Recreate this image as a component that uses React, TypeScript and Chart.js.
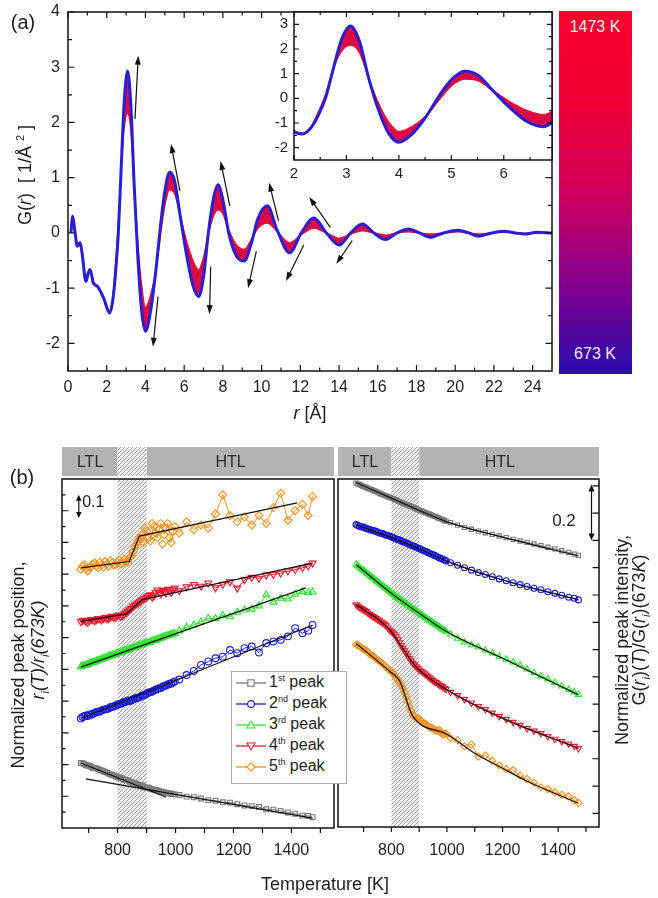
import React, { useEffect, useRef } from 'react';
import { Chart, registerables } from 'chart.js';
Chart.register(...registerables);

const FONT = '"Liberation Sans", Arial, Helvetica, sans-serif';
const W = 658;
const H = 898;

// ---------------- Panel (a): G(r) at 673 K and 1473 K ----------------
const rValues = [0.15, 0.24, 0.35, 0.48, 0.62, 0.72, 0.93, 1.05, 1.14, 1.3, 1.4, 1.55, 1.84, 2.15, 2.3, 2.45, 2.6, 2.75, 2.9, 3.08,
  3.25, 3.42, 3.6, 3.8, 4.0, 4.25, 4.5, 4.8, 5.0, 5.25, 5.5, 5.8, 6.1, 6.45, 6.75, 7.0, 7.25, 7.5, 7.75, 8.0,
  8.3, 8.7, 9.1, 9.5, 9.8, 10.3, 10.8, 11.45, 12.05, 12.7, 13.35, 14.0, 14.6, 15.2, 15.8, 16.4, 17.0, 17.6, 18.15, 18.7,
  19.4, 20.15, 20.7, 21.2, 21.9, 22.55, 23.1, 23.6, 24.2, 25.0];
const g673K = [0.0, 0.30, 0.05, -0.24, -0.18, -0.35, -0.88, -0.72, -0.66, -0.90, -0.94, -0.98, -1.18, -1.45, -1.25, -0.75, 0.0, 1.20, 2.35, 2.93,
  2.30, 0.85, -0.40, -1.40, -1.78, -1.45, -0.80, 0.20, 0.75, 1.10, 0.95, 0.30, -0.35, -0.95, -1.15, -0.80, 0.0, 0.60, 0.87, 0.60,
  0.0, -0.42, -0.51, -0.15, 0.25, 0.49, 0.05, -0.36, 0.0, 0.27, 0.0, -0.22, 0.0, 0.16, 0.0, -0.12, 0.0, 0.07, 0.0, -0.08,
  0.0, 0.05, 0.0, -0.06, 0.0, 0.03, 0.0, -0.02, 0.01, 0.0];
const g1473K = [0.0, 0.22, 0.02, -0.20, -0.17, -0.33, -0.82, -0.70, -0.66, -0.88, -0.94, -0.98, -1.16, -1.42, -1.25, -0.62, 0.15, 1.20, 1.90, 2.16,
  1.85, 0.85, -0.15, -0.95, -1.35, -1.15, -0.75, 0.02, 0.50, 0.78, 0.72, 0.30, -0.12, -0.50, -0.67, -0.45, -0.02, 0.30, 0.42, 0.35,
  0.05, -0.22, -0.30, -0.10, 0.08, 0.18, 0.03, -0.18, -0.03, 0.09, 0.0, -0.10, -0.02, 0.04, 0.0, -0.04, 0.0, 0.02, 0.0, -0.02,
  0.0, 0.02, 0.0, -0.02, 0.0, 0.01, 0.0, -0.01, 0.0, 0.0];

const arrowTailR = [3.46, 5.78, 8.36, 10.87, 13.55, 4.65, 7.37, 9.73, 12.18, 14.68];
const arrowTailG = [2.06, 0.76, 0.49, 0.22, 0.10, -1.15, -0.61, -0.33, -0.22, -0.14];
const arrowHeadR = [3.63, 5.32, 7.88, 10.39, 12.46, 4.39, 7.31, 9.30, 11.26, 13.86];
const arrowHeadG = [3.21, 1.61, 1.30, 0.91, 0.65, -2.06, -1.47, -1.00, -0.87, -0.56];

const mainXMajor = [0, 2, 4, 6, 8, 10, 12, 14, 16, 18, 20, 22, 24];
const mainXMinor = [1, 3, 5, 7, 9, 11, 13, 15, 17, 19, 21, 23];
const mainYMajor = [-2, -1, 0, 1, 2, 3, 4];
const mainYMinor = [-1.5, -0.5, 0.5, 1.5, 2.5, 3.5];
const insetXMajor = [2, 3, 4, 5, 6];
const insetXMinor = [2.5, 3.5, 4.5, 5.5, 6.5];
const insetYMajor = [-2, -1, 0, 1, 2, 3];
const insetYMinor = [-1.5, -0.5, 0.5, 1.5, 2.5];

// ---------------- Panel (b) ----------------
const temperatures = [673, 685, 697, 709, 721, 733, 745, 757, 769, 781, 793, 805,
  817, 829, 841, 853, 865, 877, 889, 901, 913, 925, 937, 949,
  961, 973, 985, 997, 1013, 1038, 1063, 1088, 1113, 1138, 1163, 1188,
  1213, 1238, 1263, 1288, 1313, 1338, 1363, 1388, 1413, 1438, 1458, 1473];
// extra measurements in the densely sampled low-temperature range
const temperaturesMid = [679, 691, 703, 715, 727, 739, 751, 763, 775, 787, 799, 811, 823, 835,
  847, 859, 871, 883, 895, 907, 919, 931, 943, 955, 967, 979, 991];

const pos1st = [0.205, 0.201, 0.197, 0.193, 0.189, 0.185, 0.181, 0.176, 0.172, 0.168, 0.163, 0.159,
  0.155, 0.151, 0.147, 0.143, 0.139, 0.135, 0.131, 0.127, 0.124, 0.121, 0.118, 0.115,
  0.112, 0.110, 0.108, 0.106, 0.104, 0.099, 0.097, 0.093, 0.088, 0.086, 0.081, 0.080,
  0.075, 0.071, 0.069, 0.066, 0.059, 0.058, 0.054, 0.049, 0.045, 0.039, 0.038, 0.034];
const pos2nd = [0.345, 0.352, 0.353, 0.357, 0.363, 0.366, 0.370, 0.374, 0.377, 0.382, 0.386, 0.391,
  0.395, 0.398, 0.400, 0.405, 0.410, 0.413, 0.418, 0.424, 0.428, 0.433, 0.438, 0.441,
  0.448, 0.452, 0.455, 0.462, 0.468, 0.482, 0.495, 0.514, 0.525, 0.535, 0.540, 0.561,
  0.551, 0.567, 0.572, 0.553, 0.583, 0.588, 0.593, 0.604, 0.630, 0.614, 0.622, 0.640];
const pos3rd = [0.508, 0.512, 0.515, 0.521, 0.523, 0.528, 0.532, 0.536, 0.541, 0.543, 0.548, 0.552,
  0.556, 0.560, 0.563, 0.568, 0.571, 0.576, 0.579, 0.583, 0.586, 0.592, 0.594, 0.598,
  0.603, 0.606, 0.610, 0.613, 0.621, 0.633, 0.640, 0.650, 0.661, 0.660, 0.670, 0.666,
  0.680, 0.687, 0.690, 0.700, 0.735, 0.712, 0.724, 0.722, 0.737, 0.745, 0.742, 0.744];
const pos4th = [0.650, 0.655, 0.648, 0.657, 0.653, 0.660, 0.656, 0.663, 0.660, 0.667, 0.664, 0.671,
  0.669, 0.678, 0.688, 0.697, 0.706, 0.713, 0.722, 0.728, 0.735, 0.731, 0.750, 0.738,
  0.745, 0.752, 0.742, 0.756, 0.748, 0.760, 0.767, 0.762, 0.772, 0.757, 0.768, 0.776,
  0.756, 0.782, 0.790, 0.787, 0.797, 0.799, 0.803, 0.810, 0.814, 0.820, 0.826, 0.835];
const pos5th = [0.815, 0.830, 0.810, 0.825, 0.835, 0.820, 0.830, 0.840, 0.825, 0.835, 0.830, 0.845,
  0.835, 0.840, 0.850, 0.870, 0.895, 0.915, 0.900, 0.935, 0.905, 0.950, 0.915, 0.960,
  0.925, 0.960, 0.900, 0.950, 0.930, 0.965, 0.940, 0.955, 0.945, 0.990, 1.050, 0.985,
  0.965, 0.980, 0.955, 0.985, 0.960, 1.010, 1.055, 0.970, 1.000, 1.020, 0.985, 1.045];

const pos1stMid = [0.204, 0.198, 0.196, 0.190, 0.188, 0.182, 0.179, 0.175, 0.169, 0.166, 0.160, 0.158, 0.152, 0.150,
  0.144, 0.142, 0.136, 0.134, 0.128, 0.127, 0.122, 0.120, 0.116, 0.114, 0.111, 0.109, 0.106];
const pos2ndMid = [0.350, 0.355, 0.358, 0.360, 0.366, 0.368, 0.373, 0.375, 0.381, 0.383, 0.389, 0.392, 0.397, 0.402,
  0.402, 0.408, 0.411, 0.417, 0.420, 0.427, 0.430, 0.436, 0.441, 0.445, 0.449, 0.455, 0.459];
const pos3rdMid = [0.511, 0.514, 0.519, 0.522, 0.526, 0.530, 0.535, 0.538, 0.543, 0.546, 0.551, 0.553, 0.559, 0.561,
  0.566, 0.569, 0.574, 0.577, 0.582, 0.584, 0.590, 0.592, 0.597, 0.600, 0.605, 0.608, 0.612];
const pos4thMid = [0.654, 0.651, 0.654, 0.656, 0.657, 0.659, 0.661, 0.660, 0.665, 0.664, 0.669, 0.666, 0.674, 0.683,
  0.692, 0.702, 0.709, 0.718, 0.724, 0.733, 0.727, 0.742, 0.744, 0.749, 0.741, 0.748, 0.751];
const pos5thMid = [0.825, 0.818, 0.822, 0.832, 0.826, 0.838, 0.822, 0.832, 0.842, 0.828, 0.838, 0.832, 0.846, 0.838,
  0.858, 0.885, 0.905, 0.925, 0.945, 0.915, 0.960, 0.930, 0.940, 0.895, 0.945, 0.915, 0.935];

const int1st = [1.260, 1.255, 1.249, 1.244, 1.239, 1.234, 1.229, 1.223, 1.218, 1.213, 1.208, 1.203,
  1.198, 1.192, 1.187, 1.182, 1.177, 1.172, 1.166, 1.161, 1.156, 1.151, 1.146, 1.141,
  1.136, 1.131, 1.126, 1.120, 1.115, 1.106, 1.098, 1.091, 1.084, 1.078, 1.072, 1.066,
  1.060, 1.054, 1.048, 1.043, 1.037, 1.031, 1.025, 1.019, 1.012, 1.006, 1.000, 0.995];
const int2nd = [1.108, 1.102, 1.100, 1.094, 1.091, 1.086, 1.083, 1.077, 1.075, 1.069, 1.066, 1.061,
  1.055, 1.052, 1.045, 1.041, 1.035, 1.030, 1.025, 1.020, 1.014, 1.009, 1.003, 0.998,
  0.992, 0.986, 0.981, 0.975, 0.968, 0.959, 0.950, 0.941, 0.932, 0.925, 0.917, 0.909,
  0.902, 0.895, 0.888, 0.881, 0.875, 0.869, 0.862, 0.856, 0.849, 0.842, 0.838, 0.832];
const int3rd = [0.962, 0.951, 0.942, 0.932, 0.922, 0.913, 0.903, 0.893, 0.884, 0.874, 0.864, 0.853,
  0.845, 0.836, 0.827, 0.818, 0.809, 0.800, 0.792, 0.783, 0.774, 0.766, 0.757, 0.749,
  0.741, 0.733, 0.724, 0.717, 0.707, 0.691, 0.677, 0.667, 0.659, 0.648, 0.637, 0.624,
  0.614, 0.604, 0.593, 0.578, 0.565, 0.553, 0.542, 0.529, 0.516, 0.503, 0.494, 0.485];
const int4th = [0.815, 0.805, 0.798, 0.790, 0.780, 0.772, 0.764, 0.756, 0.748, 0.738, 0.722, 0.712,
  0.698, 0.676, 0.655, 0.637, 0.618, 0.600, 0.588, 0.576, 0.567, 0.557, 0.547, 0.537,
  0.530, 0.520, 0.514, 0.505, 0.494, 0.482, 0.468, 0.455, 0.442, 0.431, 0.418, 0.406,
  0.395, 0.384, 0.373, 0.361, 0.352, 0.343, 0.332, 0.322, 0.314, 0.305, 0.296, 0.288];
const int5th = [0.668, 0.664, 0.652, 0.648, 0.634, 0.628, 0.617, 0.608, 0.598, 0.586, 0.575, 0.566,
  0.548, 0.530, 0.508, 0.478, 0.440, 0.410, 0.398, 0.395, 0.382, 0.377, 0.365, 0.362,
  0.352, 0.355, 0.338, 0.342, 0.326, 0.318, 0.296, 0.303, 0.258, 0.262, 0.243, 0.226,
  0.212, 0.208, 0.188, 0.176, 0.162, 0.145, 0.139, 0.127, 0.118, 0.112, 0.098, 0.088];

const int1stMid = [1.257, 1.252, 1.246, 1.241, 1.236, 1.231, 1.226, 1.220, 1.215, 1.210, 1.205, 1.200, 1.195, 1.189,
  1.184, 1.179, 1.174, 1.169, 1.163, 1.158, 1.153, 1.148, 1.143, 1.138, 1.133, 1.128, 1.123];
const int2ndMid = [1.105, 1.099, 1.097, 1.092, 1.088, 1.085, 1.080, 1.076, 1.072, 1.068, 1.063, 1.058, 1.053, 1.049,
  1.043, 1.038, 1.032, 1.028, 1.022, 1.017, 1.011, 1.006, 1.000, 0.995, 0.989, 0.984, 0.978];
const int3rdMid = [0.957, 0.946, 0.937, 0.927, 0.917, 0.908, 0.898, 0.888, 0.879, 0.869, 0.858, 0.849, 0.840, 0.831,
  0.822, 0.813, 0.804, 0.796, 0.787, 0.778, 0.770, 0.761, 0.753, 0.745, 0.737, 0.728, 0.720];
const int4thMid = [0.810, 0.801, 0.794, 0.785, 0.776, 0.768, 0.760, 0.752, 0.743, 0.730, 0.717, 0.705, 0.687, 0.665,
  0.646, 0.627, 0.609, 0.594, 0.582, 0.571, 0.562, 0.552, 0.542, 0.533, 0.525, 0.517, 0.509];
const int5thMid = [0.666, 0.658, 0.650, 0.641, 0.631, 0.622, 0.612, 0.603, 0.592, 0.580, 0.570, 0.557, 0.539, 0.519,
  0.493, 0.459, 0.425, 0.404, 0.396, 0.388, 0.380, 0.371, 0.363, 0.357, 0.353, 0.346, 0.340];

// fitted lines (left: piecewise linear, right: smooth)
const fitPos1aT = [673, 968];
const fitPos1aV = [0.205, 0.097];
const fitPos1bT = [690, 1473];
const fitPos1bV = [0.155, 0.031];
const fitPos2T = [673, 1473];
const fitPos2V = [0.345, 0.640];
const fitPos3T = [673, 1450];
const fitPos3V = [0.507, 0.757];
const fitPos4T = [673, 830, 885, 1473];
const fitPos4V = [0.651, 0.675, 0.720, 0.835];
const fitPos5T = [673, 840, 875, 1420];
const fitPos5V = [0.820, 0.840, 0.920, 1.025];

const fitInt1T = [673, 800, 1000, 1200, 1473];
const fitInt1V = [1.262, 1.205, 1.118, 1.062, 0.993];
const fitInt2T = [673, 900, 1000, 1200, 1473];
const fitInt2V = [1.108, 1.020, 0.974, 0.905, 0.832];
const fitInt3T = [673, 800, 900, 1000, 1200, 1473];
const fitInt3V = [0.962, 0.856, 0.783, 0.715, 0.618, 0.484];
const fitInt4T = [673, 790, 840, 890, 1000, 1200, 1473];
const fitInt4V = [0.815, 0.728, 0.656, 0.586, 0.503, 0.398, 0.288];
const fitInt5T = [673, 800, 830, 875, 1000, 1100, 1200, 1300, 1400, 1473];
const fitInt5V = [0.672, 0.565, 0.535, 0.410, 0.340, 0.270, 0.215, 0.162, 0.118, 0.087];

const tempTicks = [700, 800, 900, 1000, 1100, 1200, 1300, 1400, 1500];
const tempLabels = [800, 1000, 1200, 1400];
const posYMajor = [0.1, 0.2, 0.3, 0.4, 0.5, 0.6, 0.7, 0.8, 0.9, 1.0];
const posYMinor = [0.05, 0.15, 0.25, 0.35, 0.45, 0.55, 0.65, 0.75, 0.85, 0.95, 1.05];
const intYTicks = [0.05, 0.15, 0.25, 0.35, 0.45, 0.55, 0.65, 0.75, 0.85, 0.95, 1.05, 1.15, 1.25];

const transitionFrom = 800;
const transitionTo = 900;
const ltlLabelT = 705;
const htlLabelT = 1190;

const posBarT = 666;
const posBarFrom = 0.977;
const posBarTo = 1.05;
const posBarLabel = { t: 716, v: 1.025, text: '0.1' };
const intBarT = 1520;
const intBarFrom = 1.05;
const intBarTo = 1.255;
const intBarLabel = { t: 1421, v: 1.12, text: '0.2' };

const seriesNames = ['1', '2', '3', '4', '5'];
const seriesSup = ['st', 'nd', 'rd', 'th', 'th'];
const seriesColors = ['rgb(120,120,120)', 'rgb(25,25,215)', 'rgb(45,225,45)', 'rgb(235,25,45)', 'rgb(245,145,30)'];
const seriesMarkers = ['rect', 'circle', 'triangle', 'triangleDown', 'rectRot'];

// ---------------- helpers ----------------
const pts = (xs: number[], ys: number[]) => xs.map((x, i) => ({ x, y: ys[i] }));

function hatchPattern(ctx: CanvasRenderingContext2D) {
  const c = document.createElement('canvas');
  c.width = 4; c.height = 4;
  const p = c.getContext('2d')!;
  p.fillStyle = '#eeeeee';
  p.fillRect(0, 0, 4, 4);
  p.strokeStyle = '#a2a2a2';
  p.lineWidth = 1;
  p.beginPath();
  p.moveTo(0, 4); p.lineTo(4, 0);
  p.moveTo(-1, 1); p.lineTo(1, -1);
  p.moveTo(3, 5); p.lineTo(5, 3);
  p.stroke();
  return ctx.createPattern(c, 'repeat')!;
}

function arrowHead(ctx: CanvasRenderingContext2D, x1: number, y1: number, x2: number, y2: number, len: number, half: number) {
  const a = Math.atan2(y2 - y1, x2 - x1);
  const bx = x2 - len * Math.cos(a), by = y2 - len * Math.sin(a);
  ctx.beginPath();
  ctx.moveTo(x2, y2);
  ctx.lineTo(bx + half * Math.sin(a), by - half * Math.cos(a));
  ctx.lineTo(bx - half * Math.sin(a), by + half * Math.cos(a));
  ctx.closePath();
  ctx.fill();
}

function makeDecor(d: any) {
  return {
    id: 'decor',
    beforeDraw(chart: any) {
      const { ctx, chartArea: a, scales } = chart;
      ctx.save();
      if (d.white) {
        ctx.fillStyle = '#ffffff';
        ctx.fillRect(a.left, a.top, a.right - a.left, a.bottom - a.top);
      }
      if (d.band) {
        const sx = scales.x;
        const pat = hatchPattern(ctx);
        const x1 = sx.getPixelForValue(d.band.from);
        const x2 = sx.getPixelForValue(d.band.to);
        const bt = a.top - 32, bh = 29;
        ctx.fillStyle = '#b3b3b3';
        ctx.fillRect(a.left, bt, x1 - a.left, bh);
        ctx.fillRect(x2, bt, a.right - x2, bh);
        ctx.fillStyle = pat;
        ctx.fillRect(x1, bt, x2 - x1, bh);
        ctx.fillRect(x1, a.top, x2 - x1, a.bottom - a.top);
        ctx.fillStyle = '#2a2a2a';
        ctx.font = '16px ' + FONT;
        ctx.textAlign = 'center';
        ctx.textBaseline = 'middle';
        ctx.fillText('LTL', sx.getPixelForValue(d.band.ltlAt), bt + bh / 2 + 1);
        ctx.fillText('HTL', sx.getPixelForValue(d.band.htlAt), bt + bh / 2 + 1);
      }
      ctx.restore();
    },
    afterDatasetsDraw(chart: any) {
      const { ctx, chartArea: a, scales } = chart;
      ctx.save();
      ctx.strokeStyle = '#111';
      ctx.lineWidth = 1.5;
      ctx.strokeRect(a.left, a.top, a.right - a.left, a.bottom - a.top);
      ctx.lineWidth = 1.2;
      for (const t of d.ticks) {
        const sc = scales[t.axis];
        const dir = t.inward ? 1 : -1;
        ctx.beginPath();
        for (const v of t.values) {
          const p = sc.getPixelForValue(v);
          if (t.side === 'bottom') { ctx.moveTo(p, a.bottom); ctx.lineTo(p, a.bottom - dir * t.len); }
          else if (t.side === 'top') { ctx.moveTo(p, a.top); ctx.lineTo(p, a.top + dir * t.len); }
          else if (t.side === 'left') { ctx.moveTo(a.left, p); ctx.lineTo(a.left + dir * t.len, p); }
          else { ctx.moveTo(a.right, p); ctx.lineTo(a.right - dir * t.len, p); }
        }
        ctx.stroke();
      }
      ctx.fillStyle = '#1e1e1e';
      for (const l of d.labels) {
        const sc = scales[l.axis];
        ctx.font = l.font + ' ' + FONT;
        ctx.textBaseline = 'middle';
        l.values.forEach((v: number) => {
          const p = sc.getPixelForValue(v);
          const text = String(v);
          if (l.side === 'bottom') { ctx.textAlign = 'center'; ctx.fillText(text, p, a.bottom + l.offset); }
          else { ctx.textAlign = 'right'; ctx.fillText(text, a.left - l.offset, p); }
        });
      }
      if (d.arrows) {
        ctx.fillStyle = '#111';
        ctx.strokeStyle = '#111';
        for (const ar of d.arrows) {
          const x1 = scales.x.getPixelForValue(ar.x1), y1 = scales.y.getPixelForValue(ar.y1);
          const x2 = scales.x.getPixelForValue(ar.x2), y2 = scales.y.getPixelForValue(ar.y2);
          const L = ar.len || 9, hw = ar.half || 3.2;
          const ang = Math.atan2(y2 - y1, x2 - x1);
          const sx = ar.double ? x1 + (L - 1) * Math.cos(ang) : x1;
          const sy = ar.double ? y1 + (L - 1) * Math.sin(ang) : y1;
          ctx.lineWidth = 1.2;
          ctx.beginPath();
          ctx.moveTo(sx, sy);
          ctx.lineTo(x2 - (L - 1) * Math.cos(ang), y2 - (L - 1) * Math.sin(ang));
          ctx.stroke();
          arrowHead(ctx, x1, y1, x2, y2, L, hw);
          if (ar.double) arrowHead(ctx, x2, y2, x1, y1, L, hw);
        }
      }
      if (d.texts) {
        ctx.fillStyle = '#1e1e1e';
        for (const t of d.texts) {
          ctx.font = t.font + ' ' + FONT;
          ctx.textAlign = 'center';
          ctx.textBaseline = 'middle';
          ctx.fillText(t.text, scales.x.getPixelForValue(t.t), scales.y.getPixelForValue(t.v));
        }
      }
      ctx.restore();
    },
  };
}

const baseOptions = (pad: any, xr: number[], yr: number[]) => ({
  responsive: false,
  maintainAspectRatio: false,
  animation: false,
  events: [],
  layout: { padding: pad },
  scales: {
    x: { type: 'linear', min: xr[0], max: xr[1], display: false },
    y: { type: 'linear', min: yr[0], max: yr[1], display: false },
  },
  plugins: { legend: { display: false }, tooltip: { enabled: false } },
});

const BLUE = 'rgb(40,30,210)';
const RED = 'rgb(245,0,40)';
const BAND = 'rgb(218,10,70)';

function gDatasets() {
  return [
    {
      data: pts(rValues, g673K), borderColor: BLUE, borderWidth: 3, pointRadius: 0,
      cubicInterpolationMode: 'monotone', fill: { target: 1, above: BAND, below: BAND },
    },
    {
      data: pts(rValues, g1473K), borderColor: RED, borderWidth: 1.5, pointRadius: 0,
      cubicInterpolationMode: 'monotone', fill: false,
    },
  ];
}

function seriesDataset(xs: number[], values: number[], i: number, radius: number, showLine: boolean) {
  const m = seriesMarkers[i];
  return {
    data: pts(xs, values),
    showLine,
    borderColor: seriesColors[i],
    borderWidth: 1,
    pointStyle: m === 'triangleDown' ? 'triangle' : m,
    pointRotation: m === 'triangleDown' ? 180 : 0,
    pointRadius: m === 'rect' ? radius : m === 'circle' ? radius : radius + 0.6,
    pointBorderColor: seriesColors[i],
    pointBackgroundColor: 'rgba(255,255,255,0)',
    pointBorderWidth: 1.1,
    tension: 0,
    order: 1,
  };
}

function fitDataset(ts: number[], vs: number[], smooth: boolean) {
  return {
    data: pts(ts, vs), borderColor: '#111', borderWidth: 1.2, pointRadius: 0,
    cubicInterpolationMode: smooth ? 'monotone' : 'default', tension: 0, order: 0,
  };
}

const Txt = ({ x, y, size = 16, rot = 0, italic = false, color = '#1e1e1e', children }: any) => (
  <div style={{
    position: 'absolute', left: x, top: y, transform: `translate(-50%,-50%) rotate(${rot}deg)`,
    fontFamily: FONT, fontSize: size, whiteSpace: 'pre', color, lineHeight: 1, fontStyle: italic ? 'italic' : 'normal',
  }}>{children}</div>
);

function Marker({ kind, color }: any) {
  const c = 6;
  const common = { fill: 'white', stroke: color, strokeWidth: 1.1 };
  if (kind === 'rect') return <rect x={15 - 3.2} y={c - 3.2} width={6.4} height={6.4} {...common} />;
  if (kind === 'circle') return <circle cx={15} cy={c} r={3.4} {...common} />;
  if (kind === 'triangle') return <polygon points={`15,${c - 4} 19,${c + 3} 11,${c + 3}`} {...common} />;
  if (kind === 'triangleDown') return <polygon points={`15,${c + 4} 19,${c - 3} 11,${c - 3}`} {...common} />;
  return <polygon points={`15,${c - 4.2} 19.2,${c} 15,${c + 4.2} 10.8,${c}`} {...common} />;
}

export default function App() {
  const mainRef = useRef<HTMLCanvasElement>(null);
  const insetRef = useRef<HTMLCanvasElement>(null);
  const posRef = useRef<HTMLCanvasElement>(null);
  const intRef = useRef<HTMLCanvasElement>(null);

  useEffect(() => {
    const charts: Chart[] = [];

    charts.push(new Chart(mainRef.current!, {
      type: 'line',
      data: { datasets: gDatasets() as any },
      options: baseOptions({ left: 68, top: 12, right: W - 552, bottom: H - 371 }, [0, 25], [-2.5, 4]) as any,
      plugins: [makeDecor({
        ticks: [
          { axis: 'x', side: 'bottom', values: mainXMajor, len: 6, inward: true },
          { axis: 'x', side: 'bottom', values: mainXMinor, len: 3.5, inward: true },
          { axis: 'x', side: 'top', values: mainXMajor, len: 6, inward: true },
          { axis: 'x', side: 'top', values: mainXMinor, len: 3.5, inward: true },
          { axis: 'y', side: 'left', values: mainYMajor, len: 6.5, inward: true },
          { axis: 'y', side: 'left', values: mainYMinor, len: 4, inward: true },
          { axis: 'y', side: 'right', values: mainYMajor, len: 6.5, inward: true },
          { axis: 'y', side: 'right', values: mainYMinor, len: 4, inward: true },
        ],
        labels: [
          { axis: 'x', side: 'bottom', values: mainXMajor, offset: 17, font: '16px' },
          { axis: 'y', side: 'left', values: mainYMajor, offset: 8, font: '16px' },
        ],
        arrows: arrowTailR.map((r, i) => ({ x1: r, y1: arrowTailG[i], x2: arrowHeadR[i], y2: arrowHeadG[i], len: 9, half: 3 })),
      })],
    }));

    charts.push(new Chart(insetRef.current!, {
      type: 'line',
      data: { datasets: gDatasets() as any },
      options: baseOptions({ left: 294, top: 12, right: W - 552, bottom: H - 160 }, [2, 6.92], [-2.5, 3.5]) as any,
      plugins: [makeDecor({
        white: true,
        ticks: [
          { axis: 'x', side: 'bottom', values: insetXMajor, len: 5, inward: true },
          { axis: 'x', side: 'bottom', values: insetXMinor, len: 3, inward: true },
          { axis: 'x', side: 'top', values: insetXMajor, len: 5, inward: true },
          { axis: 'x', side: 'top', values: insetXMinor, len: 3, inward: true },
          { axis: 'y', side: 'left', values: insetYMajor, len: 5, inward: true },
          { axis: 'y', side: 'left', values: insetYMinor, len: 3, inward: true },
          { axis: 'y', side: 'right', values: insetYMajor, len: 5, inward: true },
          { axis: 'y', side: 'right', values: insetYMinor, len: 3, inward: true },
        ],
        labels: [
          { axis: 'x', side: 'bottom', values: insetXMajor, offset: 14, font: '15px' },
          { axis: 'y', side: 'left', values: insetYMajor, offset: 6, font: '15px' },
        ],
      })],
    }));

    const posSeries = [pos1st, pos2nd, pos3rd, pos4th, pos5th];
    const posMid = [pos1stMid, pos2ndMid, pos3rdMid, pos4thMid, pos5thMid];
    const intSeries = [int1st, int2nd, int3rd, int4th, int5th];
    const intMid = [int1stMid, int2ndMid, int3rdMid, int4thMid, int5thMid];

    charts.push(new Chart(posRef.current!, {
      type: 'line',
      data: {
        datasets: [
          ...posSeries.map((s, i) => seriesDataset(temperatures, s, i, 3.4, true)),
          ...posMid.map((s, i) => seriesDataset(temperaturesMid, s, i, 3.4, false)),
          fitDataset(fitPos1aT, fitPos1aV, false),
          fitDataset(fitPos1bT, fitPos1bV, false),
          fitDataset(fitPos2T, fitPos2V, false),
          fitDataset(fitPos3T, fitPos3V, false),
          fitDataset(fitPos4T, fitPos4V, false),
          fitDataset(fitPos5T, fitPos5V, false),
        ] as any,
      },
      options: baseOptions({ left: 62, top: 479, right: W - 334, bottom: H - 828 }, [608, 1547], [0, 1.1]) as any,
      plugins: [makeDecor({
        band: { from: transitionFrom, to: transitionTo, ltlAt: ltlLabelT, htlAt: htlLabelT },
        ticks: [
          { axis: 'x', side: 'bottom', values: tempTicks, len: 5, inward: false },
          { axis: 'y', side: 'left', values: posYMajor, len: 6.5, inward: true },
          { axis: 'y', side: 'left', values: posYMinor, len: 3.5, inward: true },
        ],
        labels: [{ axis: 'x', side: 'bottom', values: tempLabels, offset: 23, font: '16px' }],
        arrows: [{ x1: posBarT, y1: posBarFrom, x2: posBarT, y2: posBarTo, double: true, len: 6, half: 2.8 }],
        texts: [{ t: posBarLabel.t, v: posBarLabel.v, text: posBarLabel.text, font: '16px' }],
      })],
    }));

    charts.push(new Chart(intRef.current!, {
      type: 'line',
      data: {
        datasets: [
          ...intSeries.map((s, i) => seriesDataset(temperatures, s, i, 3, true)),
          ...intMid.map((s, i) => seriesDataset(temperaturesMid, s, i, 3, false)),
          fitDataset(fitInt1T, fitInt1V, true),
          fitDataset(fitInt2T, fitInt2V, true),
          fitDataset(fitInt3T, fitInt3V, true),
          fitDataset(fitInt4T, fitInt4V, true),
          fitDataset(fitInt5T, fitInt5V, true),
        ] as any,
      },
      options: baseOptions({ left: 338, top: 479, right: W - 599, bottom: H - 827 }, [608, 1547], [0, 1.275]) as any,
      plugins: [makeDecor({
        band: { from: transitionFrom, to: transitionTo, ltlAt: ltlLabelT, htlAt: htlLabelT },
        ticks: [
          { axis: 'x', side: 'bottom', values: tempTicks, len: 5, inward: false },
          { axis: 'y', side: 'right', values: intYTicks, len: 6.5, inward: true },
        ],
        labels: [{ axis: 'x', side: 'bottom', values: tempLabels, offset: 24, font: '16px' }],
        arrows: [{ x1: intBarT, y1: intBarFrom, x2: intBarT, y2: intBarTo, double: true, len: 7, half: 3 }],
        texts: [{ t: intBarLabel.t, v: intBarLabel.v, text: intBarLabel.text, font: '17px' }],
      })],
    }));

    return () => charts.forEach((c) => c.destroy());
  }, []);

  const cv = { position: 'absolute' as const, left: 0, top: 0, pointerEvents: 'none' as const };

  return (
    <div style={{ position: 'absolute', left: 0, top: 0, width: W, height: H, background: '#fff', overflow: 'hidden' }}>
      <canvas ref={mainRef} width={W} height={H} style={cv} />
      <canvas ref={insetRef} width={W} height={H} style={cv} />
      <canvas ref={posRef} width={W} height={H} style={cv} />
      <canvas ref={intRef} width={W} height={H} style={cv} />

      <div style={{
        position: 'absolute', left: 559, top: 11, width: 73, height: 363,
        background: 'linear-gradient(to bottom, rgb(250,0,45) 0%, rgb(240,0,55) 25%, rgb(208,0,92) 50%, rgb(135,0,140) 74%, rgb(40,12,172) 100%)',
      }} />
      <Txt x={595} y={27} size={16} color="#f4f0f8">1473 K</Txt>
      <Txt x={595} y={354} size={16} color="#ece8ff">673 K</Txt>

      <Txt x={23} y={22} size={20}>(a)</Txt>
      <Txt x={24} y={175} size={18} rot={-90}>G(<i>r</i>)  [ 1/Å <sup style={{ fontSize: 11 }}>2</sup> ]</Txt>
      <Txt x={310} y={413} size={18}><i>r</i> [Å]</Txt>

      <Txt x={22} y={477} size={20}>(b)</Txt>
      <Txt x={18} y={665} size={18} rot={-90}>Normalized peak position,</Txt>
      <Txt x={40} y={650} size={18} rot={-90} italic>r<sub style={{ fontSize: 11 }}>i</sub>(T)/r<sub style={{ fontSize: 11 }}>i</sub>(673K)</Txt>
      <Txt x={622} y={640} size={18} rot={-90}>Normalized peak intensity,</Txt>
      <Txt x={641} y={630} size={18} rot={-90}>G(<i>r<sub style={{ fontSize: 11 }}>i</sub></i>)(<i>T</i>)/G(<i>r<sub style={{ fontSize: 11 }}>i</sub></i>)(673<i>K</i>)</Txt>
      <Txt x={325} y={884} size={18}>Temperature [K]</Txt>

      <div style={{
        position: 'absolute', left: 231, top: 671, width: 116, height: 113, background: '#fff',
        border: '1px solid #a8a8a8', boxSizing: 'border-box',
      }}>
        {seriesNames.map((n, i) => (
          <div key={i} style={{ position: 'absolute', left: 4, top: i * 21, height: 21, display: 'flex', alignItems: 'center' }}>
            <svg width={30} height={12} style={{ display: 'block' }}>
              <line x1={0} y1={6} x2={30} y2={6} stroke={seriesColors[i]} strokeWidth={1.3} />
              <Marker kind={seriesMarkers[i]} color={seriesColors[i]} />
            </svg>
            <span style={{ fontFamily: FONT, fontSize: 16, color: '#1e1e1e', marginLeft: 3, whiteSpace: 'nowrap' }}>
              {n}<sup style={{ fontSize: 9 }}>{seriesSup[i]}</sup> peak
            </span>
          </div>
        ))}
      </div>
    </div>
  );
}
